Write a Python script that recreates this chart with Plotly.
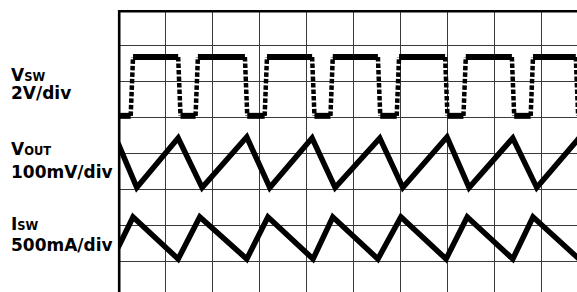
import plotly.graph_objects as go

# ---- data (oscilloscope divisions: x = time div, y = vertical div from bottom) ----
VSW_RISE = [0.32, 1.70, 3.17, 4.57, 5.98, 7.40, 8.83]
VSW_FALL = [1.28, 2.70, 4.13, 5.53, 6.96, 8.38, 9.74]
VSW_HIGH = 6.69
VSW_LOW = 5.05

VOUT_T = [0.00, 0.40, 1.28, 1.79, 2.74, 3.23, 4.13, 4.62, 5.57, 6.06, 7.00, 7.47, 8.40, 8.91, 9.81]
VOUT_V = [4.29, 3.05, 4.43, 3.05, 4.46, 3.05, 4.43, 3.05, 4.43, 3.05, 4.46, 3.05, 4.43, 3.05, 4.43]

ISW_T = [0.00, 0.32, 1.28, 1.74, 2.74, 3.19, 4.15, 4.57, 5.53, 6.02, 6.98, 7.43, 8.40, 8.83, 9.81]
ISW_V = [1.37, 2.23, 1.06, 2.23, 1.06, 2.23, 1.06, 2.23, 1.06, 2.23, 1.06, 2.23, 1.06, 2.23, 1.06]

X_DIVS = 9.766
Y_RANGE = [0.14, 8.0]
SLANT = 0.05

W, H = 577, 292
ML, MR, MT, MB = 118, 0, 10, 0

# build square-wave pieces from edge times
lev_x, lev_y, edge_x, edge_y = [], [], [], []
t_prev = 0.0
for r, f in zip(VSW_RISE, VSW_FALL):
    lev_x += [t_prev, r - SLANT, None, r, f, None]
    lev_y += [VSW_LOW, VSW_LOW, None, VSW_HIGH, VSW_HIGH, None]
    edge_x += [r - SLANT, r, None, f, f + SLANT, None]
    edge_y += [VSW_LOW, VSW_HIGH, None, VSW_HIGH, VSW_LOW, None]
    t_prev = f + SLANT
lev_x += [t_prev, X_DIVS + 0.1]
lev_y += [VSW_LOW, VSW_LOW]

fig = go.Figure()
fig.add_trace(go.Scatter(x=edge_x, y=edge_y, mode="lines",
                         line=dict(color="black", width=4.5, dash="4.5px,2px"),
                         hoverinfo="skip", showlegend=False))
fig.add_trace(go.Scatter(x=lev_x, y=lev_y, mode="lines",
                         line=dict(color="black", width=6),
                         hoverinfo="skip", showlegend=False))
fig.add_trace(go.Scatter(x=VOUT_T, y=VOUT_V, mode="lines",
                         line=dict(color="black", width=5.5),
                         hoverinfo="skip", showlegend=False))
fig.add_trace(go.Scatter(x=ISW_T, y=ISW_V, mode="lines",
                         line=dict(color="black", width=5.5),
                         hoverinfo="skip", showlegend=False))

pw, ph = W - ML - MR, H - MT - MB


def px_x(px):
    return (px - ML) / pw


def px_y(py):
    return (H - MB - py) / ph


# borders
fig.add_shape(type="line", xref="paper", yref="paper",
              x0=px_x(119.2), x1=px_x(119.2), y0=0, y1=px_y(10),
              line=dict(color="black", width=2.6))
fig.add_shape(type="line", xref="paper", yref="paper",
              x0=px_x(118), x1=1, y0=px_y(11.2), y1=px_y(11.2),
              line=dict(color="black", width=2.6))

FONT = "DejaVu Sans"
SUB = 11.5
BIG = 17
labels = [
    ("V<span style='font-size:%spx'>SW</span>" % SUB, 74.6),
    ("2V/div", 93.3),
    ("V<span style='font-size:%spx'>OUT</span>" % SUB, 149.0),
    ("100mV/div", 172.2),
    ("I<span style='font-size:%spx'>SW</span>" % SUB, 224.0),
    ("500mA/div", 244.7),
]
for txt, yc in labels:
    fig.add_annotation(text=txt, xref="paper", yref="paper",
                       x=px_x(10), y=px_y(yc), xanchor="left", yanchor="middle",
                       showarrow=False, borderpad=0,
                       font=dict(family=FONT, size=BIG, color="black", weight="bold"))

fig.update_xaxes(range=[0, X_DIVS], showgrid=True, gridcolor="#3a3a3a", gridwidth=1.4,
                 tick0=0, dtick=1, showticklabels=False, ticks="", zeroline=False,
                 showline=False, fixedrange=True)
fig.update_yaxes(range=Y_RANGE, showgrid=True, gridcolor="#3a3a3a", gridwidth=1.4,
                 tick0=0, dtick=1, showticklabels=False, ticks="", zeroline=False,
                 showline=False, fixedrange=True)
fig.update_layout(width=W, height=H, margin=dict(l=ML, r=MR, t=MT, b=MB, pad=0),
                  plot_bgcolor="white", paper_bgcolor="white", showlegend=False)

fig.write_html("out.html", config={"displayModeBar": False},
               post_script="document.body.style.margin='0';document.body.style.overflow='hidden';")
